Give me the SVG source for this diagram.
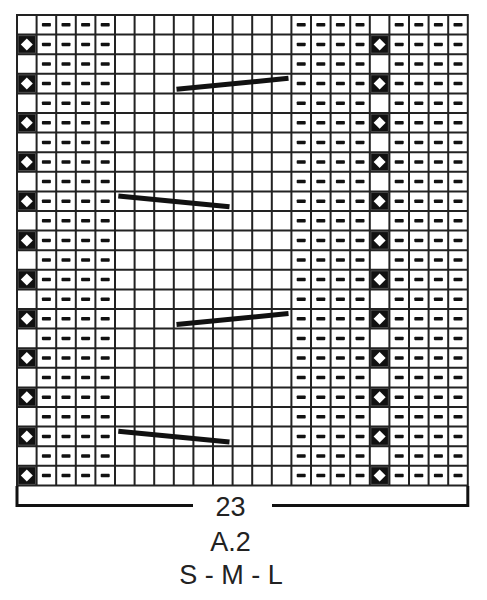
<svg xmlns="http://www.w3.org/2000/svg" xmlns:xlink="http://www.w3.org/1999/xlink" width="487" height="600" viewBox="0 0 487 600">
<style>
.grid{fill:none;stroke:#222;stroke-width:2}
.dash{fill:#111}
.cable{stroke:#111;stroke-width:5;stroke-linecap:butt}
.brk{fill:none;stroke:#111;stroke-width:3}
.lbl{font-family:"Liberation Sans",Arial,sans-serif;font-size:27px;fill:#222;text-anchor:middle}
</style>
<defs>
<rect id="d" class="dash" x="-4.5" y="-1.75" width="9" height="3.5" rx="0.8"/>
<g id="k"><rect x="-8.8" y="-8.8" width="17.6" height="17.6" fill="#111" stroke="#666" stroke-width="1"/><polygon points="0,-6 6,0 0,6 -6,0" fill="#fff"/></g>
<g id="row">
<use xlink:href="#d" x="46.4"/><use xlink:href="#d" x="66"/><use xlink:href="#d" x="85.6"/><use xlink:href="#d" x="105.2"/>
<use xlink:href="#d" x="301.2"/><use xlink:href="#d" x="320.8"/><use xlink:href="#d" x="340.4"/><use xlink:href="#d" x="360"/>
<use xlink:href="#d" x="399.2"/><use xlink:href="#d" x="418.8"/><use xlink:href="#d" x="438.4"/><use xlink:href="#d" x="458"/>
</g>
<g id="dia"><use xlink:href="#k" x="26.8"/><use xlink:href="#k" x="379.6"/></g>
</defs>
<rect x="0" y="0" width="487" height="600" fill="#fff"/>
<g id="purl">
<use xlink:href="#row" y="24.8"/><use xlink:href="#row" y="44.4"/><use xlink:href="#row" y="64"/><use xlink:href="#row" y="83.6"/>
<use xlink:href="#row" y="103.2"/><use xlink:href="#row" y="122.8"/><use xlink:href="#row" y="142.4"/><use xlink:href="#row" y="162"/>
<use xlink:href="#row" y="181.6"/><use xlink:href="#row" y="201.2"/><use xlink:href="#row" y="220.8"/><use xlink:href="#row" y="240.4"/>
<use xlink:href="#row" y="260"/><use xlink:href="#row" y="279.6"/><use xlink:href="#row" y="299.2"/><use xlink:href="#row" y="318.8"/>
<use xlink:href="#row" y="338.4"/><use xlink:href="#row" y="358"/><use xlink:href="#row" y="377.6"/><use xlink:href="#row" y="397.2"/>
<use xlink:href="#row" y="416.8"/><use xlink:href="#row" y="436.4"/><use xlink:href="#row" y="456"/><use xlink:href="#row" y="475.6"/>
</g>
<g id="diamonds">
<use xlink:href="#dia" y="44.4"/><use xlink:href="#dia" y="83.6"/><use xlink:href="#dia" y="122.8"/><use xlink:href="#dia" y="162"/>
<use xlink:href="#dia" y="201.2"/><use xlink:href="#dia" y="240.4"/><use xlink:href="#dia" y="279.6"/><use xlink:href="#dia" y="318.8"/>
<use xlink:href="#dia" y="358"/><use xlink:href="#dia" y="397.2"/><use xlink:href="#dia" y="436.4"/><use xlink:href="#dia" y="475.6"/>
</g>
<path id="gridlines" class="grid" d="M17,15V485.4M36.6,15V485.4M56.2,15V485.4M75.8,15V485.4M95.4,15V485.4M115,15V485.4M134.6,15V485.4M154.2,15V485.4M173.8,15V485.4M193.4,15V485.4M213,15V485.4M232.6,15V485.4M252.2,15V485.4M271.8,15V485.4M291.4,15V485.4M311,15V485.4M330.6,15V485.4M350.2,15V485.4M369.8,15V485.4M389.4,15V485.4M409,15V485.4M428.6,15V485.4M448.2,15V485.4M467.8,15V485.4
M16,15H468.8M16,34.6H468.8M16,54.2H468.8M16,73.8H468.8M16,93.4H468.8M16,113H468.8M16,132.6H468.8M16,152.2H468.8M16,171.8H468.8M16,191.4H468.8M16,211H468.8M16,230.6H468.8M16,250.2H468.8M16,269.8H468.8M16,289.4H468.8M16,309H468.8M16,328.6H468.8M16,348.2H468.8M16,367.8H468.8M16,387.4H468.8M16,407H468.8M16,426.6H468.8M16,446.2H468.8M16,465.8H468.8M16,485.4H468.8"/>
<g id="cables">
<line class="cable" x1="176.5" y1="89.3" x2="288.5" y2="78.3"/>
<line class="cable" x1="118.3" y1="196" x2="229.5" y2="206.7"/>
<line class="cable" x1="176.5" y1="324.5" x2="288.5" y2="313.5"/>
<line class="cable" x1="118.3" y1="431.2" x2="229.5" y2="441.9"/>
</g>
<g id="bracket">
<path class="brk" d="M17,486V505.5H193"/>
<path class="brk" d="M272,505.5H467.8V486"/>
</g>
<text class="lbl" x="230.5" y="516">23</text>
<text class="lbl" x="230.5" y="551">A.2</text>
<text class="lbl" x="231" y="584.3">S - M - L</text>
</svg>
